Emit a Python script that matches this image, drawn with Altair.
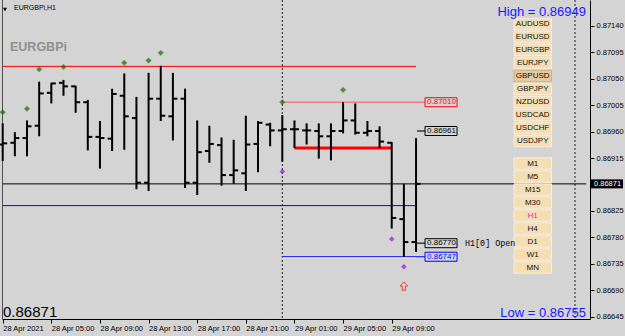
import altair as alt
import pandas as pd

BG = "#d4d4d4"
FONT = "Liberation Sans"

# ---- H1 bars: index 0 = 28 Apr 01:00 ... 34 = 29 Apr 11:00 ----
opens = [0.86938, 0.86941, 0.86949, 0.86970, 0.87026, 0.87043, 0.87037, 0.87010, 0.86951, 0.86948,
         0.87021, 0.86983, 0.86873, 0.87016, 0.86986, 0.87016, 0.86873, 0.86927, 0.86937, 0.86886,
         0.86889, 0.86939, 0.86972, 0.86962, 0.86964, 0.86962, 0.86961, 0.86952, 0.86961, 0.86979,
         0.86958, 0.86961, 0.86941, 0.86811, 0.86772]
highs = [0.86974, 0.86959, 0.86979, 0.87045, 0.87043, 0.87048, 0.87038, 0.87014, 0.86978, 0.87033,
         0.87059, 0.87019, 0.87060, 0.87072, 0.87060, 0.87033, 0.86979, 0.86970, 0.86950, 0.86946,
         0.86987, 0.86978, 0.86975, 0.86988, 0.86979, 0.86974, 0.86974, 0.86974, 0.87010, 0.87008,
         0.86978, 0.86969, 0.86942, 0.86871, 0.86949]
lows = [0.86910, 0.86918, 0.86918, 0.86952, 0.87008, 0.87021, 0.86992, 0.86928, 0.86897, 0.86927,
        0.86929, 0.86862, 0.86859, 0.86978, 0.86945, 0.86864, 0.86852, 0.86907, 0.86868, 0.86871,
        0.86859, 0.86891, 0.86935, 0.86909, 0.86932, 0.86938, 0.86914, 0.86911, 0.86957, 0.86955,
        0.86952, 0.86932, 0.86795, 0.86747, 0.86755]
closes = [0.86940, 0.86949, 0.86969, 0.87025, 0.87042, 0.87037, 0.87010, 0.86951, 0.86949, 0.87024,
          0.86986, 0.86873, 0.87016, 0.86987, 0.87016, 0.86873, 0.86925, 0.86939, 0.86886, 0.86894,
          0.86938, 0.86975, 0.86962, 0.86964, 0.86964, 0.86962, 0.86952, 0.86961, 0.86979, 0.86958,
          0.86961, 0.86943, 0.86813, 0.86772, 0.86871]

time_ticks = [0, 4, 8, 12, 16, 20, 24, 28, 32]
time_labels = ["28 Apr 2021", "28 Apr 05:00", "28 Apr 09:00", "28 Apr 13:00", "28 Apr 17:00",
               "28 Apr 21:00", "29 Apr 01:00", "29 Apr 05:00", "29 Apr 09:00"]
price_ticks = [0.87140, 0.87095, 0.87050, 0.87005, 0.86960, 0.86915,
               0.86825, 0.86780, 0.86735, 0.86690, 0.86645]

# fractal-style markers
up_idx = [0, 2, 3, 5, 10, 12, 13, 23, 28]
up_price = [0.86993, 0.86999, 0.87066, 0.87070, 0.87077, 0.87081, 0.87094, 0.87010, 0.87031]
dn_idx = [23, 32, 33]
dn_price = [0.86892, 0.86777, 0.86730]
arrow_idx = [33]
arrow_price = [0.86697]

# horizontal levels
lvl_name = ["prev_high", "day_high", "mid", "bid", "prev_low", "day_low"]
lvl_price = [0.87071, 0.87010, 0.86932, 0.86871, 0.86834, 0.86747]
lvl_from = [0, 23, 24, 0, 0, 23]
lvl_to = [34, 34, 32, 48, 34, 34]
lvl_style = {"prev_high": ("#ff0000", 1), "day_high": ("#f08080", 1.5), "mid": ("#ff0000", 3),
             "bid": ("#000000", 1), "prev_low": ("#0000ff", 1), "day_low": ("#0000ff", 1)}

box_price = [0.87010, 0.86961, 0.86770, 0.86747]
box_text = ["0.87010", "0.86961", "0.86770", "0.86747"]
box_kind = ["red", "black", "black", "blue"]
current_bar = 34
day_sep = [23]
bid = 0.86871
day_high_txt = "High = 0.86949"
day_low_txt = "Low = 0.86755"

symbols = ["AUDUSD", "EURUSD", "EURGBP", "EURJPY", "GBPUSD", "GBPJPY", "NZDUSD", "USDCAD", "USDCHF", "USDJPY"]
timeframes = ["M1", "M5", "M15", "M30", "H1", "H4", "D1", "W1", "MN"]
active_symbol = "GBPUSD"
active_tf = "H1"

# ---- scales & axes (identical in every layer so they merge) ----
xs = alt.Scale(domain=[-0.058, 48.31], nice=False, zero=False)
ys = alt.Scale(domain=[0.86641, 0.87184], nice=False, zero=False)

label_expr = "[" + ",".join("'" + t + "'" for t in time_labels) + "][round(datum.value/4)]"

x_axis = alt.Axis(values=time_ticks, labelExpr=label_expr, orient="bottom", grid=False, tickSize=4,
                  labelAlign="left", labelPadding=1, labelFont=FONT, labelFontSize=7.5, labelColor="black",
                  domainColor="black", tickColor="black", title=None, labelOverlap=False, labelBound=False,
                  labelFlush=False)
y_axis = alt.Axis(values=price_ticks, format=".5f", orient="right", grid=False, tickSize=4, labelPadding=2,
                  labelFont=FONT, labelFontSize=7.5, labelColor="black", domainColor="black", tickColor="black",
                  title=None, labelOverlap=False, labelBound=False, labelFlush=False)


def X(f):
    return alt.X(f, scale=xs, axis=x_axis)


def Y(f):
    return alt.Y(f, scale=ys, axis=y_axis)


bars = pd.DataFrame({"i": list(range(len(opens))), "o": opens, "h": highs, "l": lows, "c": closes})
base_bars = alt.Chart(bars)

hl = base_bars.mark_rule(color="black", strokeWidth=2, strokeCap="butt").encode(
    x=X("i:Q"), y=Y("l:Q"), y2="h:Q")
otick = base_bars.mark_rule(color="black", strokeWidth=2, strokeCap="butt", xOffset=-4.5, x2Offset=0).encode(
    x=X("i:Q"), x2="i:Q", y=Y("o:Q"), y2="o:Q")
ctick = base_bars.mark_rule(color="black", strokeWidth=2, strokeCap="butt", xOffset=0, x2Offset=4.5).encode(
    x=X("i:Q"), x2="i:Q", y=Y("c:Q"), y2="c:Q")

# levels
lv = pd.DataFrame({"name": lvl_name, "p": lvl_price, "a": lvl_from, "b": lvl_to})
lv_layers = []
for _, r in lv.iterrows():
    col, w = lvl_style[r["name"]]
    xo2 = 9 if r["name"] in ("day_high", "day_low") else 0
    d = pd.DataFrame([r])
    lv_layers.append(alt.Chart(d).mark_rule(color=col, strokeWidth=w, strokeCap="butt", x2Offset=xo2).encode(
        x=X("a:Q"), x2="b:Q", y=Y("p:Q"), y2="p:Q"))
    if r["name"] == "day_low":
        lv_layers.append(alt.Chart(d).mark_rule(color="#f3e7c3", strokeWidth=1, yOffset=1.2,
                                                y2Offset=1.2, strokeCap="butt").encode(
            x=X("a:Q"), x2="b:Q", y=Y("p:Q"), y2="p:Q"))

# stubs + label boxes
bx = pd.DataFrame({"p": box_price, "t": box_text, "k": box_kind, "xi": [current_bar] * len(box_price)})
kcol = alt.Scale(domain=["red", "black", "blue"], range=["#ff0000", "#000000", "#0000ff"])
stubs = alt.Chart(bx[bx.k == "black"]).mark_rule(color="#3a3a3a", strokeWidth=1.5, xOffset=1, x2Offset=9).encode(
    x=X("xi:Q"), x2="xi:Q", y=Y("p:Q"), y2="p:Q")
boxes = alt.Chart(bx).mark_rect(fill=BG, strokeWidth=1, xOffset=9, x2Offset=41, yOffset=-4.5, y2Offset=4.5).encode(
    x=X("xi:Q"), x2="xi:Q", y=Y("p:Q"), y2="p:Q",
    stroke=alt.Stroke("k:N", scale=kcol, legend=None))
box_txt = alt.Chart(bx).mark_text(align="left", baseline="middle", dx=11, font=FONT, fontSize=8).encode(
    x=X("xi:Q"), y=Y("p:Q"), text="t:N",
    color=alt.Color("k:N", scale=kcol, legend=None))
open_txt = alt.Chart(pd.DataFrame({"xi": [current_bar], "p": [box_price[2]], "t": ["H1[0] Open"]})).mark_text(
    align="left", baseline="middle", dx=49, font="Liberation Mono", fontSize=8.4, color="black").encode(
    x=X("xi:Q"), y=Y("p:Q"), text="t:N")

# markers
ups = alt.Chart(pd.DataFrame({"i": up_idx, "p": up_price})).mark_point(
    shape="diamond", filled=True, size=30, color="#0b6b0b", stroke="#5a7a10", strokeWidth=0.6).encode(
    x=X("i:Q"), y=Y("p:Q"))
dns = alt.Chart(pd.DataFrame({"i": dn_idx, "p": dn_price})).mark_point(
    shape="diamond", filled=True, size=30, color="#9a10e0").encode(
    x=X("i:Q"), y=Y("p:Q"))
arrow = alt.Chart(pd.DataFrame({"i": arrow_idx, "p": arrow_price})).mark_point(
    shape="M0,-1L0.9,0L0.38,0L0.38,1L-0.38,1L-0.38,0L-0.9,0Z", filled=False, size=70,
    stroke="#ff3a3a", strokeWidth=1, opacity=1).encode(
    x=X("i:Q"), y=Y("p:Q"))

# separators
sep = alt.Chart(pd.DataFrame({"i": day_sep})).mark_rule(color="#222222", strokeWidth=1, strokeDash=[2, 2]).encode(
    x=X("i:Q"), y=alt.value(0), y2=alt.value(319))
one = pd.DataFrame({"a": [0]})
shift = alt.Chart(one).mark_rule(color="#222222", strokeWidth=1, strokeDash=[2, 2]).encode(
    x=alt.value(573), y=alt.value(0), y2=alt.value(319))
leftframe = alt.Chart(one).mark_rule(color="#505050", strokeWidth=1).encode(
    x=alt.value(0.5), y=alt.value(0), y2=alt.value(319))

# buttons (panel widgets, one small layer each)
btn_layers = []
groups = [(symbols, 24), (timeframes, 163.5)]
for names, top in groups:
    for k, name in enumerate(names):
        cy = top + 13 * k
        on_sym = name == active_symbol
        btn_layers.append(alt.Chart(one).mark_rect(
            fill="#e6c99c" if on_sym else "#f5deb3", stroke="#cdb38a" if on_sym else "#fbeedb",
            strokeWidth=1).encode(
            x=alt.value(512), x2=alt.value(549.5), y=alt.value(cy - 5.7), y2=alt.value(cy + 5.7)))
        btn_layers.append(alt.Chart(one).mark_text(
            text=name, font=FONT, fontSize=8, baseline="middle", align="center",
            color="#f020e0" if name == active_tf else "#111111").encode(
            x=alt.value(530.7), y=alt.value(cy + 0.3)))

# bid box on price axis
bidbox = alt.Chart(pd.DataFrame({"p": [bid]})).mark_rect(
    color="black", yOffset=-4.5, y2Offset=4.5).encode(
    x=alt.value(589), x2=alt.value(621), y=Y("p:Q"), y2="p:Q")
bidtxt = alt.Chart(pd.DataFrame({"p": [bid], "t": ["0.86871"]})).mark_text(
    align="left", baseline="middle", font=FONT, fontSize=7.5, color="white").encode(
    x=alt.value(592), y=Y("p:Q"), text="t:N")


def label(txt, x, y, **kw):
    return alt.Chart(one).mark_text(text=txt, **kw).encode(x=alt.value(x), y=alt.value(y))


texts = [
    label("▼", 3, 8.5, font="DejaVu Sans", fontSize=5, color="black", align="center", baseline="middle"),
    label("EURGBPi,H1", 12, 8, font=FONT, fontSize=7, color="black", align="left", baseline="middle"),
    label("EURGBPi", 8, 50.5, font=FONT, fontSize=12.5, fontWeight="bold", color="#909090", align="left",
          baseline="alphabetic"),
    label(day_high_txt, 584, 15.5, font=FONT, fontSize=13, color="#1818ff", align="right", baseline="alphabetic"),
    label(day_low_txt, 584, 316.5, font=FONT, fontSize=13, color="#1818ff", align="right", baseline="alphabetic"),
    label("0.86871", 1, 316.5, font=FONT, fontSize=15, color="black", align="left", baseline="alphabetic"),
]

layers = ([leftframe, sep, shift] + lv_layers +
          [stubs, hl, otick, ctick, ups, dns, arrow, boxes, box_txt] +
          btn_layers + [open_txt, bidbox, bidtxt] + texts)

chart = alt.layer(*layers).properties(
    width=588, height=319, background=BG,
    padding={"left": 2, "top": 0, "right": 35, "bottom": 17},
    autosize=alt.AutoSizeParams(type="none"),
).configure_view(stroke=None)

chart.save("out.html", embed_options={"renderer": "svg", "actions": False})
